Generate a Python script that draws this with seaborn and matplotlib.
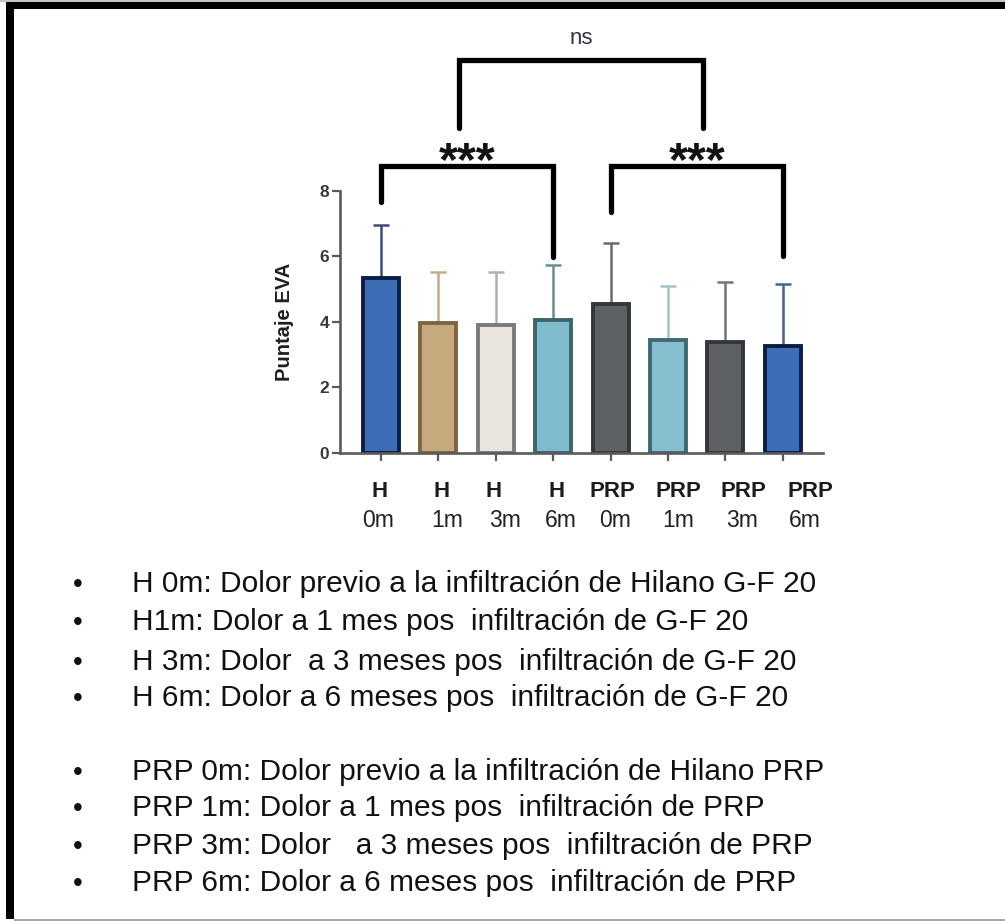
import matplotlib
matplotlib.use("Agg")
import matplotlib.pyplot as plt
import seaborn as sns
import pandas as pd
from matplotlib.patches import Rectangle

# Pain scores (EVA) per group and follow-up time
groups = ["H 0m", "H 1m", "H 3m", "H 6m", "PRP 0m", "PRP 1m", "PRP 3m", "PRP 6m"]
label_top = ["H", "H", "H", "H", "PRP", "PRP", "PRP", "PRP"]
label_bottom = ["0m", "1m", "3m", "6m", "0m", "1m", "3m", "6m"]
means = [5.33, 3.96, 3.90, 4.06, 4.55, 3.45, 3.39, 3.25]
sds = [1.62, 1.57, 1.63, 1.68, 1.86, 1.64, 1.81, 1.89]
y_ticks = [0, 2, 4, 6, 8]
y_label = "Puntaje EVA"

fill_colors = ["#3d6db5", "#c6aa7d", "#e9e5de", "#80bacd",
               "#5d6166", "#86bed0", "#5d6166", "#3d6db5"]
edge_colors = ["#0b1d45", "#7c6640", "#7a7a78", "#3c646c",
               "#33363a", "#3e6a72", "#33363a", "#0b1d45"]
err_colors = ["#3a4d7a", "#bfae8a", "#b0b0b0", "#6b8c94",
              "#6a6a6a", "#a4c2cc", "#747474", "#4a6290"]

# Significance comparisons: (left group, right group, text)
comparisons = [("H 0m", "H 6m", "***"), ("PRP 0m", "PRP 6m", "***")]
overall_text = "ns"

notes_h = [
    "H 0m: Dolor previo a la infiltración de Hilano G-F 20",
    "H1m: Dolor a 1 mes pos  infiltración de G-F 20",
    "H 3m: Dolor  a 3 meses pos  infiltración de G-F 20",
    "H 6m: Dolor a 6 meses pos  infiltración de G-F 20",
]
notes_prp = [
    "PRP 0m: Dolor previo a la infiltración de Hilano PRP",
    "PRP 1m: Dolor a 1 mes pos  infiltración de PRP",
    "PRP 3m: Dolor   a 3 meses pos  infiltración de PRP",
    "PRP 6m: Dolor a 6 meses pos  infiltración de PRP",
]

sns.set_style("ticks")
plt.rcParams["font.family"] = ["Liberation Sans", "DejaVu Sans"]

W, H = 1005, 921
fig = plt.figure(figsize=(W / 100, H / 100), dpi=100)
fig.patch.set_facecolor("white")


def fx(px):
    return px / W


def fy(py):
    return 1 - py / H


# Axes: y from 0..13.5 so the brackets fit above the 0..8 scale
ax = fig.add_axes([fx(340), fy(452.7), 483 / W, 13.5 * 32.75 / H])
ax.set_facecolor("none")

df = pd.DataFrame({"grupo": groups, "eva": means})
sns.barplot(data=df, x="grupo", y="eva", hue="grupo", palette=fill_colors,
            legend=False, width=0.63, errorbar=None, saturation=1, ax=ax)
for patch, ec in zip(ax.patches, edge_colors):
    patch.set_edgecolor(ec)
    patch.set_linewidth(2.8)
    patch.set_zorder(2)

for i, (m, s) in enumerate(zip(means, sds)):
    ax.errorbar(i, m, yerr=[[0], [s]], fmt="none", ecolor=err_colors[i],
                elinewidth=1.8, capsize=5.5, capthick=1.8, zorder=1)

ax.set_xlim(-0.714, 7.70)
ax.set_ylim(0, 13.5)
ax.set_xlabel("")
ax.set_ylabel("")

for side in ("top", "right"):
    ax.spines[side].set_visible(False)
for side in ("left", "bottom"):
    ax.spines[side].set_color("#5a5a5a")
    ax.spines[side].set_linewidth(1.9)
ax.spines["left"].set_bounds(0, 8)

ax.set_yticks(y_ticks)
ax.set_yticklabels([str(t) for t in y_ticks], fontsize=12.5, fontweight="bold",
                   color="#3a3a3a")
ax.set_xticks(range(len(groups)))
ax.set_xticklabels([])
ax.tick_params(axis="y", length=6, width=1.6, color="#5a5a5a", pad=2)
ax.tick_params(axis="x", length=6, width=1.6, color="#5a5a5a")


def bracket(x1, x2, y, y1, y2):
    ax.plot([x1, x1, x2, x2], [y1, y, y, y2], color="black", lw=3.8,
            solid_joinstyle="miter", solid_capstyle="round", clip_on=False,
            zorder=3)


idx = {g: i for i, g in enumerate(groups)}
leg_ends = [(7.66, 5.98), (7.36, 6.0)]
for (a, b, txt), (l1, l2) in zip(comparisons, leg_ends):
    xa, xb = idx[a], idx[b]
    bracket(xa, xb, 8.75, l1, l2)
    ax.text((xa + xb) / 2, 8.49, txt, ha="center", va="baseline",
            fontsize=35, fontweight="bold", color="#111111")

bracket(1.36, 5.61, 12.0, 9.9, 9.9)
ax.text((1.36 + 5.61) / 2, 12.48, overall_text, ha="center", va="baseline",
        fontsize=16, color="#333340")

# Two-line category labels under the bars
top_px = [380, 442, 494, 557, 612, 678, 743, 810]
bottom_px = [378, 447, 505, 561, 615, 678, 742, 805]
for t, b, xt, xb in zip(label_top, label_bottom, top_px, bottom_px):
    fig.text(fx(xt), fy(497), t, ha="center", va="baseline", fontsize=16,
             fontweight="bold", color="#1b1b22")
    fig.text(fx(xb), fy(527), b, ha="center", va="baseline", fontsize=16.5,
             color="#222222")

fig.text(fx(285), fy(321.7), y_label, rotation=90, ha="center", va="center",
         fontsize=14.5, fontweight="bold", color="#1e1e1e")

# Bulleted notes
baselines = [592, 630, 670, 706, 780, 816, 854, 891]
for line, yb in zip(notes_h + notes_prp, baselines):
    fig.text(fx(78), fy(yb), "•", ha="center", va="baseline", fontsize=20,
             color="#111111")
    fig.text(fx(132), fy(yb), line, ha="left", va="baseline", fontsize=21.5,
             color="#111111")

# Frame around the figure
fig.patches.append(Rectangle((0, fy(2)), 1, 2 / H, transform=fig.transFigure,
                             facecolor="#c4c4c4", edgecolor="none"))
fig.patches.append(Rectangle((fx(6), fy(9.5)), 1 - fx(6), 7.5 / H,
                             transform=fig.transFigure, facecolor="black",
                             edgecolor="none"))
fig.patches.append(Rectangle((fx(6), fy(919)), 8 / W, 917 / H,
                             transform=fig.transFigure, facecolor="black",
                             edgecolor="none"))
fig.patches.append(Rectangle((fx(14), 0), 1, 2 / H, transform=fig.transFigure,
                             facecolor="#a8a8a8", edgecolor="none"))

fig.savefig("out.png", dpi=100)
